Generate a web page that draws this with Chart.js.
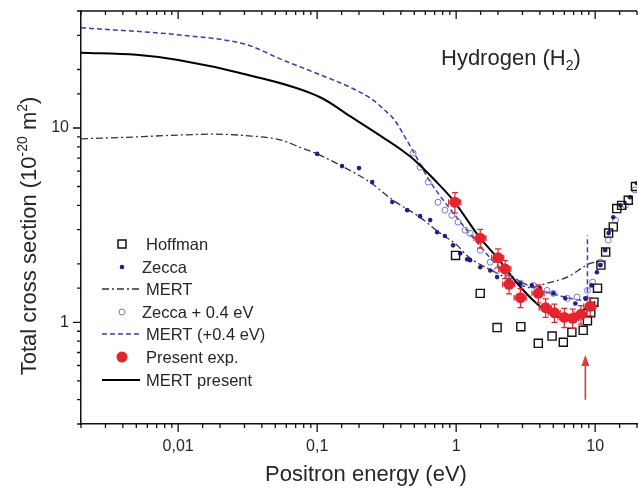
<!DOCTYPE html>
<html>
<head>
<meta charset="utf-8">
<script src="https://cdn.jsdelivr.net/npm/chart.js@4.4.1/dist/chart.umd.min.js"></script>
<style>
  html, body { margin: 0; padding: 0; background: #fff; }
  #wrap { width: 638px; height: 490px; }
</style>
</head>
<body>
<div id="wrap"><canvas id="chart" width="638" height="490"></canvas></div>
<script>
// positron energy (eV) / total cross section (1e-20 m^2)
const hoffmanE = [0.99, 1.49, 1.97, 2.92, 3.9, 4.9, 5.9, 6.8, 8.2, 8.8, 9.3, 9.8, 10.4, 11.0, 11.9, 12.5, 13.5, 14.3, 15.5, 17.3, 19.5];
const hoffmanQ = [2.21, 1.41, 0.94, 0.95, 0.78, 0.85, 0.79, 0.89, 0.91, 1.02, 1.12, 1.27, 1.5, 1.97, 2.3, 2.88, 3.1, 3.85, 4.0, 4.25, 5.0];

const zeccaE = [0.1, 0.151, 0.2, 0.249, 0.347, 0.444, 0.55, 0.65, 0.73, 0.83, 0.95, 1.07, 1.2, 1.26, 1.49, 1.76, 1.97, 2.4, 2.9, 3.5, 4.0, 5.0, 6.1, 7.2, 8.5, 9.4, 10.3, 10.9, 11.8, 12.5, 13.5, 15.2, 17.8, 20];
const zeccaQ = [7.36, 6.37, 6.22, 5.27, 4.16, 3.78, 3.52, 3.36, 2.91, 2.78, 2.49, 2.27, 2.11, 2.09, 1.92, 1.85, 1.71, 1.65, 1.59, 1.55, 1.5, 1.41, 1.33, 1.25, 1.33, 1.55, 1.81, 1.97, 2.35, 2.88, 3.47, 4.0, 4.4, 5.2];

const zeccaShiftE = [0.49, 0.55, 0.63, 0.74, 0.83, 0.93, 1.03, 1.16, 1.26, 1.49, 1.76, 1.97, 2.4, 2.9, 3.6, 4.5, 5.0, 6.3, 7.4, 8.8, 9.6, 10.9, 12.4, 14.0, 16.5, 19.3];
const zeccaShiftQ = [7.43, 6.28, 5.27, 4.15, 3.78, 3.56, 3.28, 2.98, 2.87, 2.35, 2.04, 1.85, 1.71, 1.59, 1.55, 1.46, 1.41, 1.33, 1.35, 1.46, 1.61, 2.04, 2.65, 3.35, 4.0, 4.8];

const mertE = [0.002, 0.005, 0.01, 0.018, 0.03, 0.054, 0.0755, 0.1, 0.146, 0.24, 0.352, 0.55, 0.77, 1.02, 1.2, 1.97, 2.75, 3.4, 4.5, 6.3, 9.2, 11];
const mertQ = [8.8, 9.0, 9.2, 9.3, 9.15, 8.7, 7.95, 7.36, 6.44, 5.26, 4.25, 3.47, 2.87, 2.49, 2.2, 1.79, 1.59, 1.51, 1.59, 1.71, 2.01, 2.06];

const mertShiftE = [0.002, 0.0103, 0.0314, 0.054, 0.105, 0.176, 0.25, 0.308, 0.36, 0.42, 0.49, 0.65, 1.0, 1.5, 2.0, 3.0, 4.0, 5.0, 6.0, 7.0, 8.0, 8.8];
const mertShiftQ = [32.8, 30.1, 26.8, 22.7, 18.8, 16.1, 14.0, 12.3, 11.0, 9.2, 7.6, 5.3, 3.5, 2.45, 1.95, 1.6, 1.47, 1.4, 1.35, 1.32, 1.3, 1.3];
// sharp rise of the shifted MERT curve at its end
const mertShiftJumpE = [8.8, 8.8];
const mertShiftJumpQ = [1.3, 2.8];

const presentE = [0.98, 1.49, 2.0, 2.25, 2.4, 2.9, 3.9, 4.4, 5.1, 6.0, 6.9, 7.9, 9.2];
const presentQ = [4.15, 2.71, 2.15, 1.88, 1.57, 1.34, 1.41, 1.19, 1.12, 1.06, 1.05, 1.10, 1.21];
const presentErr = [0.5, 0.3, 0.24, 0.2, 0.17, 0.15, 0.15, 0.13, 0.12, 0.12, 0.12, 0.12, 0.13];

const mertPresentE = [0.002, 0.005, 0.01, 0.0314, 0.105, 0.176, 0.308, 0.4, 0.5, 0.7, 0.95, 1.49, 1.97, 2.75, 3.58, 4.75, 5.9, 7.4, 8.8, 10];
const mertPresentQ = [24.4, 23.8, 22.4, 18.8, 14.4, 11.4, 8.8, 7.75, 6.85, 5.4, 4.26, 2.71, 2.16, 1.59, 1.30, 1.11, 1.06, 1.11, 1.19, 1.28];

const xTickLabels = { '-2': '0,01', '-1': '0,1', '0': '1', '1': '10' };
const yTickLabels = { '0': '1', '1': '10' };

const arrowE = 8.5;
const arrowFrom = 0.40;
const arrowTo = 0.68;

const BLUE_DARK = '#1f1f86';
const BLUE_DASH = '#3b3bb0';
const BLUE_OPEN = '#7676c6';
const RED = '#e42530';
const TEXT = '#262626';
const FONT = '"Liberation Sans", Arial, sans-serif';

function pts(xs, ys) {
    return xs.map((x, i) => ({ x: x, y: ys[i] }));
}

function decade(v) {
    const l = Math.log10(v);
    return Math.abs(l - Math.round(l)) < 1e-6 ? Math.round(l) : null;
}

function drawSymbol(ctx, kind, x, y) {
    ctx.save();
    if (kind === 'square') {
        ctx.strokeStyle = '#111';
        ctx.lineWidth = 1.5;
        ctx.strokeRect(x - 4, y - 4, 8, 8);
    } else if (kind === 'dot') {
        ctx.fillStyle = BLUE_DARK;
        ctx.beginPath();
        ctx.arc(x, y, 2.3, 0, Math.PI * 2);
        ctx.fill();
    } else if (kind === 'circle') {
        ctx.strokeStyle = BLUE_OPEN;
        ctx.lineWidth = 1;
        ctx.beginPath();
        ctx.arc(x, y, 3, 0, Math.PI * 2);
        ctx.stroke();
    } else if (kind === 'red') {
        ctx.fillStyle = RED;
        ctx.beginPath();
        ctx.arc(x, y, 5.5, 0, Math.PI * 2);
        ctx.fill();
    } else {
        ctx.beginPath();
        ctx.moveTo(x - 20, y);
        ctx.lineTo(x + 18, y);
        if (kind === 'dashdot') {
            ctx.strokeStyle = '#2e2e4e';
            ctx.lineWidth = 1.3;
            ctx.setLineDash([7, 3, 2, 3]);
        } else if (kind === 'dash') {
            ctx.strokeStyle = BLUE_DASH;
            ctx.lineWidth = 1.5;
            ctx.setLineDash([5, 3]);
        } else {
            ctx.strokeStyle = '#000';
            ctx.lineWidth = 2;
        }
        ctx.stroke();
    }
    ctx.restore();
}

const legendItems = [
    { kind: 'square', label: 'Hoffman', y: 244, tx: 146 },
    { kind: 'dot', label: 'Zecca', y: 267, tx: 142 },
    { kind: 'dashdot', label: 'MERT', y: 289, tx: 146 },
    { kind: 'circle', label: 'Zecca + 0.4 eV', y: 312, tx: 142 },
    { kind: 'dash', label: 'MERT (+0.4 eV)', y: 334, tx: 146 },
    { kind: 'red', label: 'Present exp.', y: 357, tx: 146 },
    { kind: 'solid', label: 'MERT present', y: 380, tx: 146 }
];

const decor = {
    id: 'decor',
    beforeDatasetDraw(chart, args) {
        if (args.index !== 0) return;
        const ctx = chart.ctx;
        const xs = chart.scales.x, ys = chart.scales.y;
        ctx.save();
        ctx.strokeStyle = RED;
        ctx.lineWidth = 1.2;
        presentE.forEach((e, i) => {
            const px = xs.getPixelForValue(e);
            const y1 = ys.getPixelForValue(presentQ[i] + presentErr[i]);
            const y2 = ys.getPixelForValue(presentQ[i] - presentErr[i]);
            const x1 = xs.getPixelForValue(e * 0.9);
            const x2 = xs.getPixelForValue(e * 1.1);
            const py = ys.getPixelForValue(presentQ[i]);
            ctx.beginPath();
            ctx.moveTo(px, y1); ctx.lineTo(px, y2);
            ctx.moveTo(px - 3, y1); ctx.lineTo(px + 3, y1);
            ctx.moveTo(px - 3, y2); ctx.lineTo(px + 3, y2);
            ctx.moveTo(x1, py); ctx.lineTo(x2, py);
            ctx.moveTo(x1, py - 3); ctx.lineTo(x1, py + 3);
            ctx.moveTo(x2, py - 3); ctx.lineTo(x2, py + 3);
            ctx.stroke();
        });
        ctx.restore();
    },
    afterDraw(chart) {
        const ctx = chart.ctx;
        const a = chart.chartArea;
        const xs = chart.scales.x, ys = chart.scales.y;

        ctx.save();
        ctx.strokeStyle = '#111';
        ctx.lineWidth = 1.5;
        // top frame line
        ctx.beginPath();
        ctx.moveTo(a.left, a.top);
        ctx.lineTo(a.right, a.top);
        ctx.stroke();

        ctx.lineWidth = 1.3;
        ctx.beginPath();
        xs.ticks.forEach(t => {
            const p = xs.getPixelForValue(t.value);
            const len = decade(t.value) !== null ? 8 : 4;
            ctx.moveTo(p, a.bottom); ctx.lineTo(p, a.bottom + len);
            ctx.moveTo(p, a.top); ctx.lineTo(p, a.top + len);
        });
        ys.ticks.forEach(t => {
            const p = ys.getPixelForValue(t.value);
            const len = decade(t.value) !== null ? 8 : 4;
            ctx.moveTo(a.left - len, p); ctx.lineTo(a.left, p);
        });
        ctx.stroke();

        // red arrow
        const ax = xs.getPixelForValue(arrowE);
        const ay1 = ys.getPixelForValue(arrowFrom);
        const ay2 = ys.getPixelForValue(arrowTo);
        ctx.strokeStyle = '#e03a3a';
        ctx.fillStyle = '#e03a3a';
        ctx.lineWidth = 1.6;
        ctx.beginPath();
        ctx.moveTo(ax, ay1); ctx.lineTo(ax, ay2 + 8);
        ctx.stroke();
        ctx.beginPath();
        ctx.moveTo(ax, ay2);
        ctx.lineTo(ax - 4, ay2 + 11);
        ctx.lineTo(ax + 4, ay2 + 11);
        ctx.closePath();
        ctx.fill();

        // title inside plot
        ctx.fillStyle = TEXT;
        ctx.textBaseline = 'alphabetic';
        ctx.textAlign = 'left';
        ctx.font = '22px ' + FONT;
        let hx = 441;
        ctx.fillText('Hydrogen (H', hx, 65);
        hx += ctx.measureText('Hydrogen (H').width;
        ctx.font = '14px ' + FONT;
        ctx.fillText('2', hx, 70);
        hx += ctx.measureText('2').width;
        ctx.font = '22px ' + FONT;
        ctx.fillText(')', hx, 65);

        // x axis title
        ctx.textAlign = 'center';
        ctx.fillText('Positron energy (eV)', 366, 481);

        // y axis title with superscripts
        const parts = [
            ['Total cross section (10', 22, 0],
            ['-20', 14, -9],
            [' m', 22, 0],
            ['2', 14, -9],
            [')', 22, 0]
        ];
        let total = 0;
        parts.forEach(p => { ctx.font = p[1] + 'px ' + FONT; total += ctx.measureText(p[0]).width; });
        ctx.translate(36, 236);
        ctx.rotate(-Math.PI / 2);
        ctx.textAlign = 'left';
        let tx = -total / 2;
        parts.forEach(p => {
            ctx.font = p[1] + 'px ' + FONT;
            ctx.fillText(p[0], tx, p[2]);
            tx += ctx.measureText(p[0]).width;
        });
        ctx.restore();

        // legend
        ctx.save();
        ctx.font = '16.5px ' + FONT;
        ctx.fillStyle = TEXT;
        ctx.textBaseline = 'middle';
        ctx.textAlign = 'left';
        legendItems.forEach(it => {
            drawSymbol(ctx, it.kind, 122, it.y);
            ctx.fillStyle = TEXT;
            ctx.fillText(it.label, it.tx, it.y + 1);
        });
        ctx.restore();
    }
};

const axisCommon = {
    type: 'logarithmic',
    grid: { display: true, drawOnChartArea: false, drawTicks: true, tickLength: 9, color: 'rgba(0,0,0,0)' },
    border: { display: true, color: '#111', width: 1.5 }
};

new Chart(document.getElementById('chart').getContext('2d'), {
    type: 'scatter',
    data: {
        datasets: [
            {
                label: 'Present exp.',
                data: pts(presentE, presentQ),
                pointRadius: 5.5,
                pointBackgroundColor: RED,
                pointBorderColor: RED,
                pointBorderWidth: 0,
                order: 0
            },
            {
                label: 'MERT present',
                data: pts(mertPresentE, mertPresentQ),
                showLine: true,
                borderColor: '#000',
                borderWidth: 2,
                pointRadius: 0,
                cubicInterpolationMode: 'monotone',
                order: 1
            },
            {
                label: 'Hoffman',
                data: pts(hoffmanE, hoffmanQ),
                pointStyle: 'rect',
                pointRadius: 5.7,
                pointBorderColor: '#111',
                pointBorderWidth: 1.4,
                pointBackgroundColor: 'rgba(0,0,0,0)',
                order: 2
            },
            {
                label: 'Zecca',
                data: pts(zeccaE, zeccaQ),
                pointRadius: 2.3,
                pointBorderWidth: 0,
                pointBackgroundColor: BLUE_DARK,
                order: 3
            },
            {
                label: 'Zecca + 0.4 eV',
                data: pts(zeccaShiftE, zeccaShiftQ),
                pointRadius: 3,
                pointBorderWidth: 1,
                pointBorderColor: BLUE_OPEN,
                pointBackgroundColor: 'rgba(0,0,0,0)',
                order: 4
            },
            {
                label: 'MERT (+0.4 eV)',
                data: pts(mertShiftE, mertShiftQ),
                showLine: true,
                borderColor: BLUE_DASH,
                borderWidth: 1.5,
                borderDash: [5, 3],
                pointRadius: 0,
                cubicInterpolationMode: 'monotone',
                order: 5
            },
            {
                label: 'MERT (+0.4 eV) rise',
                data: pts(mertShiftJumpE, mertShiftJumpQ),
                showLine: true,
                borderColor: BLUE_DASH,
                borderWidth: 1.5,
                borderDash: [5, 3],
                pointRadius: 0,
                order: 5
            },
            {
                label: 'MERT',
                data: pts(mertE, mertQ),
                showLine: true,
                borderColor: '#2e2e4e',
                borderWidth: 1.3,
                borderDash: [7, 3, 2, 3],
                pointRadius: 0,
                cubicInterpolationMode: 'monotone',
                order: 6
            }
        ]
    },
    options: {
        responsive: false,
        animation: false,
        devicePixelRatio: 1,
        layout: { autoPadding: false, padding: { top: 11, right: 1, left: 0, bottom: 0 } },
        plugins: { legend: { display: false }, tooltip: { enabled: false } },
        scales: {
            x: Object.assign({}, axisCommon, {
                min: 0.002,
                max: 20,
                afterFit(s) { s.height = 66; s.paddingLeft = 0; s.paddingRight = 0; },
                ticks: {
                    autoSkip: false, maxRotation: 0, minRotation: 0, padding: 4,
                    color: TEXT, font: { family: FONT, size: 16 },
                    callback(v) { const d = decade(v); return d !== null && xTickLabels[d] ? xTickLabels[d] : ''; }
                }
            }),
            y: Object.assign({}, axisCommon, {
                min: 0.3,
                max: 40,
                afterFit(s) { s.width = 81; s.paddingTop = 0; s.paddingBottom = 0; },
                ticks: {
                    autoSkip: false, padding: 3,
                    color: TEXT, font: { family: FONT, size: 16 },
                    callback(v) { const d = decade(v); return d !== null && yTickLabels[d] ? yTickLabels[d] : ''; }
                }
            })
        }
    },
    plugins: [decor]
});
</script>
</body>
</html>
